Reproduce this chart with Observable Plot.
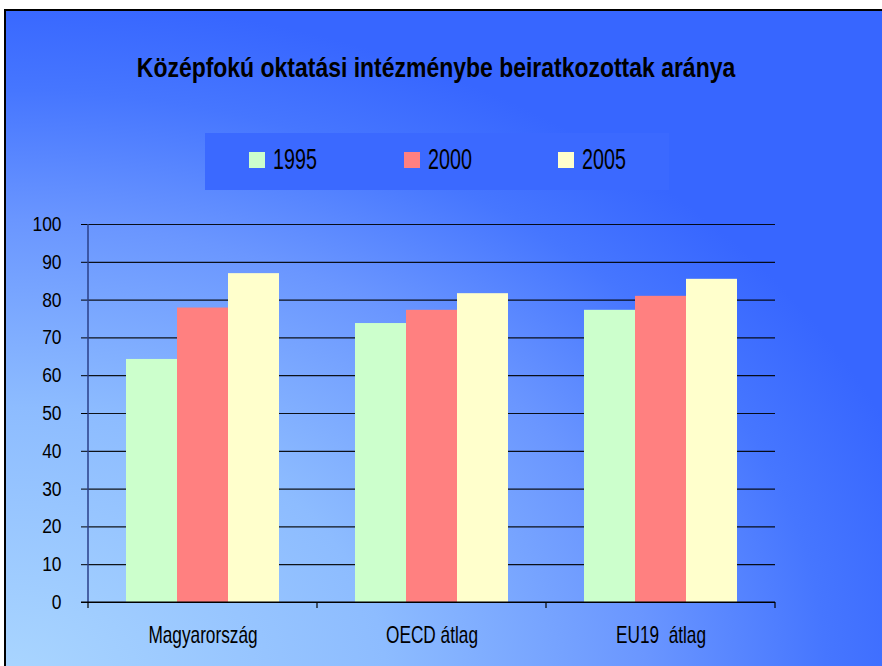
<!DOCTYPE html>
<html>
<head>
<meta charset="utf-8">
<script src="https://cdn.jsdelivr.net/npm/d3@7"></script>
<script src="https://cdn.jsdelivr.net/npm/@observablehq/plot@0.6"></script>
<style>
  html, body { margin: 0; padding: 0; background: #fff; width: 882px; height: 666px; overflow: hidden; }
  body { position: relative; font-family: "Liberation Sans", Arial, sans-serif; }
  #frame {
    position: absolute; left: 4px; top: 9px; width: 890px; height: 670px;
    border-left: 2px solid #000; border-top: 2px solid #000;
    background: radial-gradient(ellipse 1000px 720px at 0% 100%, #aad6ff 0%, #8dbcff 38%, #6a96ff 64%, #4676ff 82%, #3766ff 95%);
  }
  #title {
    position: absolute; left: 0; width: 872px; top: 51px; text-align: center;
    font-weight: bold; font-size: 28px; line-height: 34px; color: #000;
    transform: scaleX(0.82); transform-origin: 436px 0;
    white-space: nowrap;
  }
  #legend {
    position: absolute; left: 205px; top: 133px; width: 464px; height: 57px;
    background: #3b69ff;
  }
  .item { position: absolute; top: 0; height: 57px; color: #000; }
  .sw { position: absolute; top: 19px; left: 0; width: 16px; height: 16px; }
  .lbl { position: absolute; left: 24px; top: 9px; font-size: 29px; line-height: 34px; white-space: nowrap;
         transform: scaleX(0.68); transform-origin: 0 0; }
  #chart { position: absolute; left: 0; top: 200px; }
  #chart svg text { white-space: pre; }
</style>
</head>
<body>
<div id="frame"></div>
<div id="title">Középfokú oktatási intézménybe beiratkozottak aránya</div>
<div id="legend"></div>
<div id="chart"></div>
<script>
const categories = ["Magyarország", "OECD átlag", "EU19  átlag"];
const years = ["1995", "2000", "2005"];
const colors = ["#ccffcc", "#ff8080", "#ffffcc"];
const values1995 = [64.3, 73.8, 77.3];
const values2000 = [77.9, 77.3, 81.0];
const values2005 = [87.0, 81.7, 85.5];
const yTicks = [0, 10, 20, 30, 40, 50, 60, 70, 80, 90, 100];

const series = [values1995, values2000, values2005];
const data = [];
categories.forEach((c, i) => years.forEach((y, j) => data.push({cat: c, year: y, value: series[j][i]})));

// legend
const legend = document.getElementById("legend");
const legendX = [44, 199, 353];
years.forEach((y, i) => {
  const it = document.createElement("div");
  it.className = "item";
  it.style.left = legendX[i] + "px";
  it.innerHTML = `<div class="sw" style="background:${colors[i]}"></div><div class="lbl">${y}</div>`;
  legend.appendChild(it);
});

const chart = Plot.plot({
  width: 882,
  height: 466,
  marginTop: 24,
  marginBottom: 64,
  marginLeft: 87,
  marginRight: 106,
  style: {background: "transparent", fontFamily: "'Liberation Sans', Arial, sans-serif", fontSize: "17px", color: "#000", overflow: "visible"},
  fx: {domain: categories, padding: 0, label: null},
  x: {domain: years, paddingInner: 0, paddingOuter: 0.72, axis: null},
  y: {domain: [0, 100], label: null},
  color: {domain: years, range: colors},
  marks: [
    Plot.gridY(yTicks, {stroke: "#000", strokeOpacity: 0.9, strokeWidth: 1.2}),
    Plot.barY(data, {fx: "cat", x: "year", y: "value", fill: "year"}),
    Plot.axisY(yTicks, {tickSize: 7, tickPadding: 20, label: null, fontSize: 20, stroke: "#000", className: "yax"}),
    Plot.axisFx({anchor: "bottom", tickSize: 0, tickPadding: 24, label: null, fontSize: 23, className: "fxax"}),
    Plot.ruleY([0], {stroke: "#000", strokeWidth: 1.2})
  ]
});
document.getElementById("chart").appendChild(chart);

// horizontally condensed lettering, as in the reference
function condense(sel, s) {
  d3.select(chart).selectAll(sel).each(function () {
    const t = d3.select(this);
    const tr = t.attr("transform");
    if (tr && tr.includes("translate")) {
      t.attr("transform", tr + ` scale(${s},1)`);
    } else {
      const x = +t.attr("x") || 0, y = +t.attr("y") || 0;
      t.attr("x", null).attr("y", null).attr("transform", `translate(${x},${y}) scale(${s},1)`);
    }
  });
}
condense("g[aria-label='y-axis tick label'] text", 0.87);
condense("g[aria-label='fx-axis tick label'] text", 0.75);

// category boundary ticks and vertical axis line, from the library's scales
const fx = chart.scale("fx");
const ys = chart.scale("y");
const svg = d3.select(chart);
const bounds = categories.map(c => fx.apply(c));
bounds.push(fx.apply(categories[categories.length - 1]) + fx.bandwidth);
const g = svg.append("g");
g.append("line")
  .attr("x1", bounds[0]).attr("x2", bounds[0])
  .attr("y1", ys.apply(100)).attr("y2", ys.apply(0))
  .attr("stroke", "#2a3f88").attr("stroke-width", 1.5);
g.append("line")
  .attr("x1", bounds[0] - 7).attr("x2", bounds[bounds.length - 1])
  .attr("y1", ys.apply(0)).attr("y2", ys.apply(0))
  .attr("stroke", "#000").attr("stroke-width", 1.2);
bounds.forEach(b => {
  g.append("line")
    .attr("x1", b).attr("x2", b)
    .attr("y1", ys.apply(0)).attr("y2", ys.apply(0) + 6)
    .attr("stroke", "#000").attr("stroke-width", 1.2);
});
</script>
</body>
</html>
